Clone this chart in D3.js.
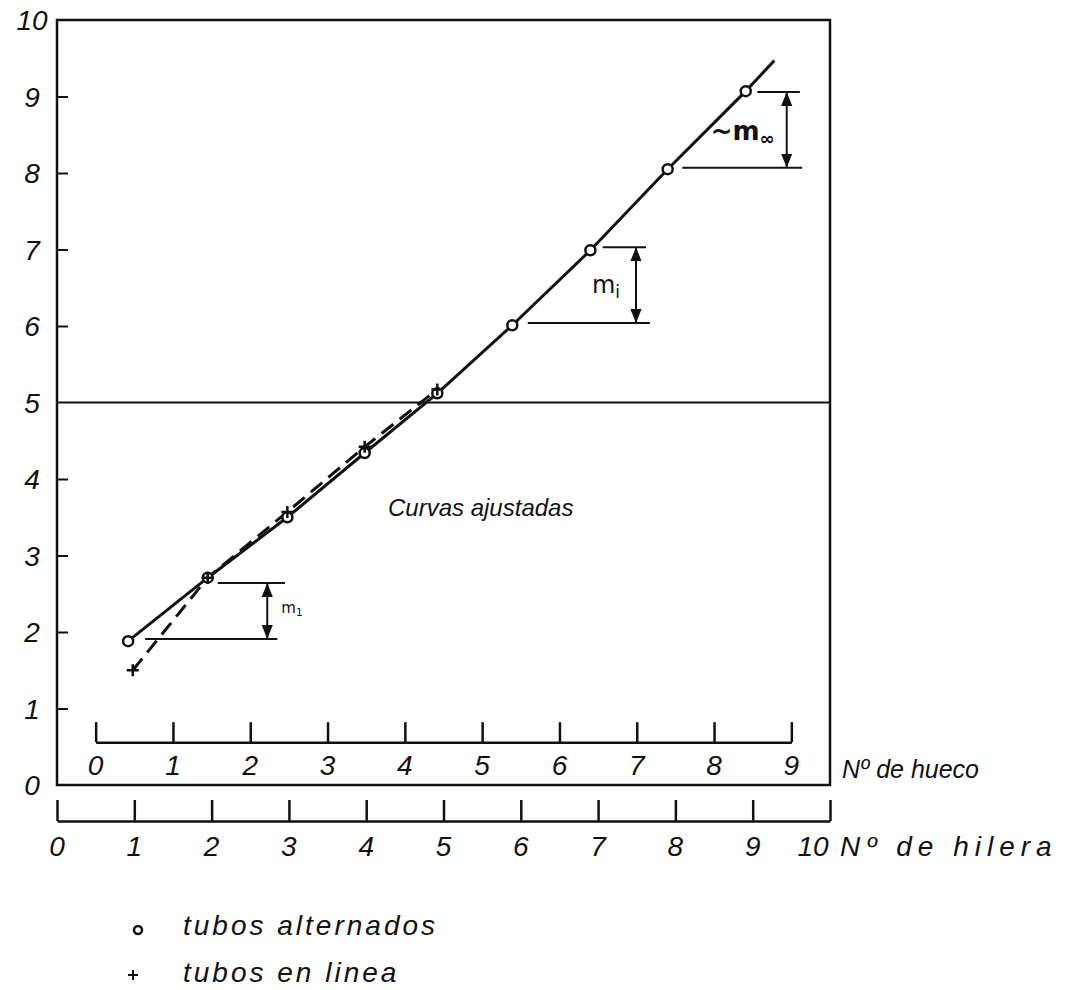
<!DOCTYPE html>
<html>
<head>
<meta charset="utf-8">
<script src="https://cdn.jsdelivr.net/npm/d3@7"></script>
<style>
    body { margin: 0; background: #fff; }
    svg text { font-family: "Liberation Sans", sans-serif; font-style: italic; fill: #111; }
</style>
</head>
<body>
<div id="chart"></div>
<script>
// values
const yTicks = [0, 1, 2, 3, 4, 5, 6, 7, 8, 9, 10];
const hileraTicks = [0, 1, 2, 3, 4, 5, 6, 7, 8, 9, 10];
const huecoTicks = [0, 1, 2, 3, 4, 5, 6, 7, 8, 9];

// tubos alternados (o)
const altX = [0.92, 1.95, 2.98, 3.98, 4.92, 5.89, 6.9, 7.9, 8.91];
const altY = [1.88, 2.71, 3.50, 4.34, 5.12, 6.01, 6.99, 8.05, 9.07];
// fitted curve runs a little past the last point
const altCurveEndX = 9.28;
const altCurveEndY = 9.47;

// tubos en linea (+)
const linX = [0.98, 1.95, 2.98, 3.98, 4.92];
const linY = [1.50, 2.71, 3.57, 4.42, 5.17];

// dimension marks between two points, arrow in between
const dimMarks = [
    { label: "m", sub: "1", x: 2.72, top: 2.64, bottom: 1.91, topX: [2.08, 2.95], botX: [1.14, 2.85] },
    { label: "m", sub: "i", x: 7.49, top: 7.03, bottom: 6.04, topX: [7.06, 7.62], botX: [6.09, 7.67] },
    { label: "~m", sub: "∞", x: 9.44, top: 9.06, bottom: 8.07, topX: [9.06, 9.61], botX: [8.09, 9.64] }
];

class CurvesVis {
    constructor(parentElement) {
        this.parentElement = parentElement;
        this.initVis();
    }

    initVis() {
        const vis = this;

        vis.svg = d3.select(vis.parentElement)
            .append("svg")
            .attr("width", 1068)
            .attr("height", 990);

        // plot frame
        vis.x = d3.scaleLinear().domain([0, 10]).range([57, 830]);
        vis.y = d3.scaleLinear().domain([0, 10]).range([785, 20]);
        // hueco k sits half way between hileras
        vis.xHueco = d3.scaleLinear().domain([0, 9]).range([vis.x(0.5), vis.x(9.5)]);

        vis.drawFrame();
        vis.drawAxes();
        vis.drawCurves();
        vis.drawMarks();
        vis.drawLegend();
    }

    drawFrame() {
        const vis = this;
        vis.svg.append("rect")
            .attr("x", vis.x(0))
            .attr("y", vis.y(10))
            .attr("width", vis.x(10) - vis.x(0))
            .attr("height", vis.y(0) - vis.y(10))
            .attr("fill", "none")
            .attr("stroke", "#111")
            .attr("stroke-width", 2.5);

        // reference line at 5
        vis.svg.append("line")
            .attr("x1", vis.x(0)).attr("x2", vis.x(10))
            .attr("y1", vis.y(5)).attr("y2", vis.y(5))
            .attr("stroke", "#111")
            .attr("stroke-width", 2);
    }

    drawAxes() {
        const vis = this;

        // left axis: small inward ticks, labels outside
        const yAxis = d3.axisRight(vis.y)
            .tickValues(yTicks.filter(d => d > 0 && d < 10 && d !== 5))
            .tickSize(11)
            .tickFormat("");
        vis.svg.append("g")
            .attr("transform", `translate(${vis.x(0)},0)`)
            .call(yAxis)
            .call(g => g.select(".domain").remove())
            .call(g => g.selectAll("line").attr("stroke", "#111").attr("stroke-width", 2));

        vis.svg.append("g").selectAll("text")
            .data(yTicks)
            .enter().append("text")
            .attr("x", 32)
            .attr("y", d => vis.y(d) + 10)
            .attr("text-anchor", "middle")
            .style("font-size", "28px")
            .text(d => d);

        // Nº de hueco scale inside the frame
        const huecoAxis = d3.axisTop(vis.xHueco)
            .tickValues(huecoTicks)
            .tickSize(20)
            .tickSizeOuter(0)
            .tickFormat("");
        vis.svg.append("g")
            .attr("transform", `translate(0,${vis.y(0.56)})`)
            .call(huecoAxis)
            .call(g => g.select(".domain").attr("stroke", "#111").attr("stroke-width", 2.5))
            .call(g => g.selectAll(".tick line").attr("stroke", "#111").attr("stroke-width", 2.5));

        vis.svg.append("g").selectAll("text")
            .data(huecoTicks)
            .enter().append("text")
            .attr("x", d => vis.xHueco(d))
            .attr("y", vis.y(0.56) + 33)
            .attr("text-anchor", "middle")
            .style("font-size", "28px")
            .text(d => d);

        vis.svg.append("text")
            .attr("x", 842)
            .attr("y", vis.y(0.56) + 36)
            .style("font-size", "25px")
            .text("Nº de hueco");

        // Nº de hilera scale below the frame
        const hileraAxis = d3.axisTop(vis.x)
            .tickValues(hileraTicks)
            .tickSize(21)
            .tickSizeOuter(0)
            .tickFormat("");
        vis.svg.append("g")
            .attr("transform", "translate(0,821)")
            .call(hileraAxis)
            .call(g => g.select(".domain").attr("stroke", "#111").attr("stroke-width", 2.5))
            .call(g => g.selectAll(".tick line").attr("stroke", "#111").attr("stroke-width", 2.5));

        vis.svg.append("g").selectAll("text")
            .data(hileraTicks)
            .enter().append("text")
            .attr("x", d => vis.x(d) - (d === 10 ? 17 : 0))
            .attr("y", 856)
            .attr("text-anchor", "middle")
            .style("font-size", "28px")
            .text(d => d);

        vis.svg.append("text")
            .attr("x", 840)
            .attr("y", 856)
            .style("font-size", "28px")
            .style("letter-spacing", "6px")
            .text("Nº de hilera");
    }

    drawCurves() {
        const vis = this;
        const line = d3.line().x(d => vis.x(d[0])).y(d => vis.y(d[1]));

        const altPts = altX.map((d, i) => [d, altY[i]]);
        const linPts = linX.map((d, i) => [d, linY[i]]);

        vis.svg.append("path")
            .datum(altPts.concat([[altCurveEndX, altCurveEndY]]))
            .attr("d", line)
            .attr("fill", "none")
            .attr("stroke", "#111")
            .attr("stroke-width", 3);

        vis.svg.append("path")
            .datum(linPts)
            .attr("d", line)
            .attr("fill", "none")
            .attr("stroke", "#111")
            .attr("stroke-width", 3)
            .attr("stroke-dasharray", "15,8");

        vis.svg.append("g").selectAll("circle")
            .data(altPts)
            .enter().append("circle")
            .attr("cx", d => vis.x(d[0]))
            .attr("cy", d => vis.y(d[1]))
            .attr("r", 5)
            .attr("fill", "#fff")
            .attr("stroke", "#111")
            .attr("stroke-width", 2.5);

        vis.svg.append("g").selectAll("path")
            .data(linPts)
            .enter().append("path")
            .attr("transform", d => `translate(${vis.x(d[0])},${vis.y(d[1])})`)
            .attr("d", "M-6,0H6M0,-6V6")
            .attr("stroke", "#111")
            .attr("stroke-width", 2.5);

        vis.svg.append("text")
            .attr("x", 388)
            .attr("y", 516)
            .style("font-size", "24px")
            .text("Curvas ajustadas");
    }

    drawMarks() {
        const vis = this;

        vis.svg.append("defs").append("marker")
            .attr("id", "arrow")
            .attr("viewBox", "0 0 10 10")
            .attr("refX", 10).attr("refY", 5)
            .attr("markerWidth", 7).attr("markerHeight", 7)
            .attr("orient", "auto-start-reverse")
            .append("path")
            .attr("d", "M0,1L10,5L0,9Z")
            .attr("fill", "#111");

        const g = vis.svg.append("g").selectAll("g")
            .data(dimMarks)
            .enter().append("g");

        g.append("line")
            .attr("x1", d => vis.x(d.topX[0])).attr("x2", d => vis.x(d.topX[1]))
            .attr("y1", d => vis.y(d.top)).attr("y2", d => vis.y(d.top))
            .attr("stroke", "#111").attr("stroke-width", 2);

        g.append("line")
            .attr("x1", d => vis.x(d.botX[0])).attr("x2", d => vis.x(d.botX[1]))
            .attr("y1", d => vis.y(d.bottom)).attr("y2", d => vis.y(d.bottom))
            .attr("stroke", "#111").attr("stroke-width", 2);

        g.append("line")
            .attr("x1", d => vis.x(d.x)).attr("x2", d => vis.x(d.x))
            .attr("y1", d => vis.y(d.top)).attr("y2", d => vis.y(d.bottom))
            .attr("stroke", "#111").attr("stroke-width", 2)
            .attr("marker-start", "url(#arrow)")
            .attr("marker-end", "url(#arrow)");

        // labels sit left of the arrow, except m1
        const labels = g.append("text")
            .attr("x", (d, i) => i === 0 ? vis.x(d.x) + 14 : vis.x(d.x) - (i === 1 ? 44 : 76))
            .attr("y", (d, i) => (vis.y(d.top) + vis.y(d.bottom)) / 2 + (i === 0 ? 2 : i === 1 ? 8 : 10))
            .style("font-style", "normal")
            .style("font-family", "'DejaVu Sans', sans-serif")
            .style("font-size", (d, i) => i === 0 ? "15px" : i === 1 ? "24px" : "26px")
            .style("font-weight", (d, i) => i === 2 ? "bold" : "normal");
        labels.append("tspan").text(d => d.label);
        labels.append("tspan")
            .attr("dy", "0.3em")
            .style("font-size", "0.7em")
            .text(d => d.sub);
    }

    drawLegend() {
        const vis = this;
        vis.svg.append("circle")
            .attr("cx", 138).attr("cy", 930).attr("r", 4)
            .attr("fill", "none").attr("stroke", "#111").attr("stroke-width", 2.5);
        vis.svg.append("path")
            .attr("d", "M128,975H138M133,970V980")
            .attr("stroke", "#111").attr("stroke-width", 2);

        vis.svg.append("text")
            .attr("x", 183).attr("y", 935)
            .style("font-size", "28px")
            .style("letter-spacing", "3px")
            .text("tubos alternados");
        vis.svg.append("text")
            .attr("x", 183).attr("y", 982)
            .style("font-size", "28px")
            .style("letter-spacing", "3px")
            .text("tubos en linea");
    }
}

new CurvesVis("#chart");
</script>
</body>
</html>
